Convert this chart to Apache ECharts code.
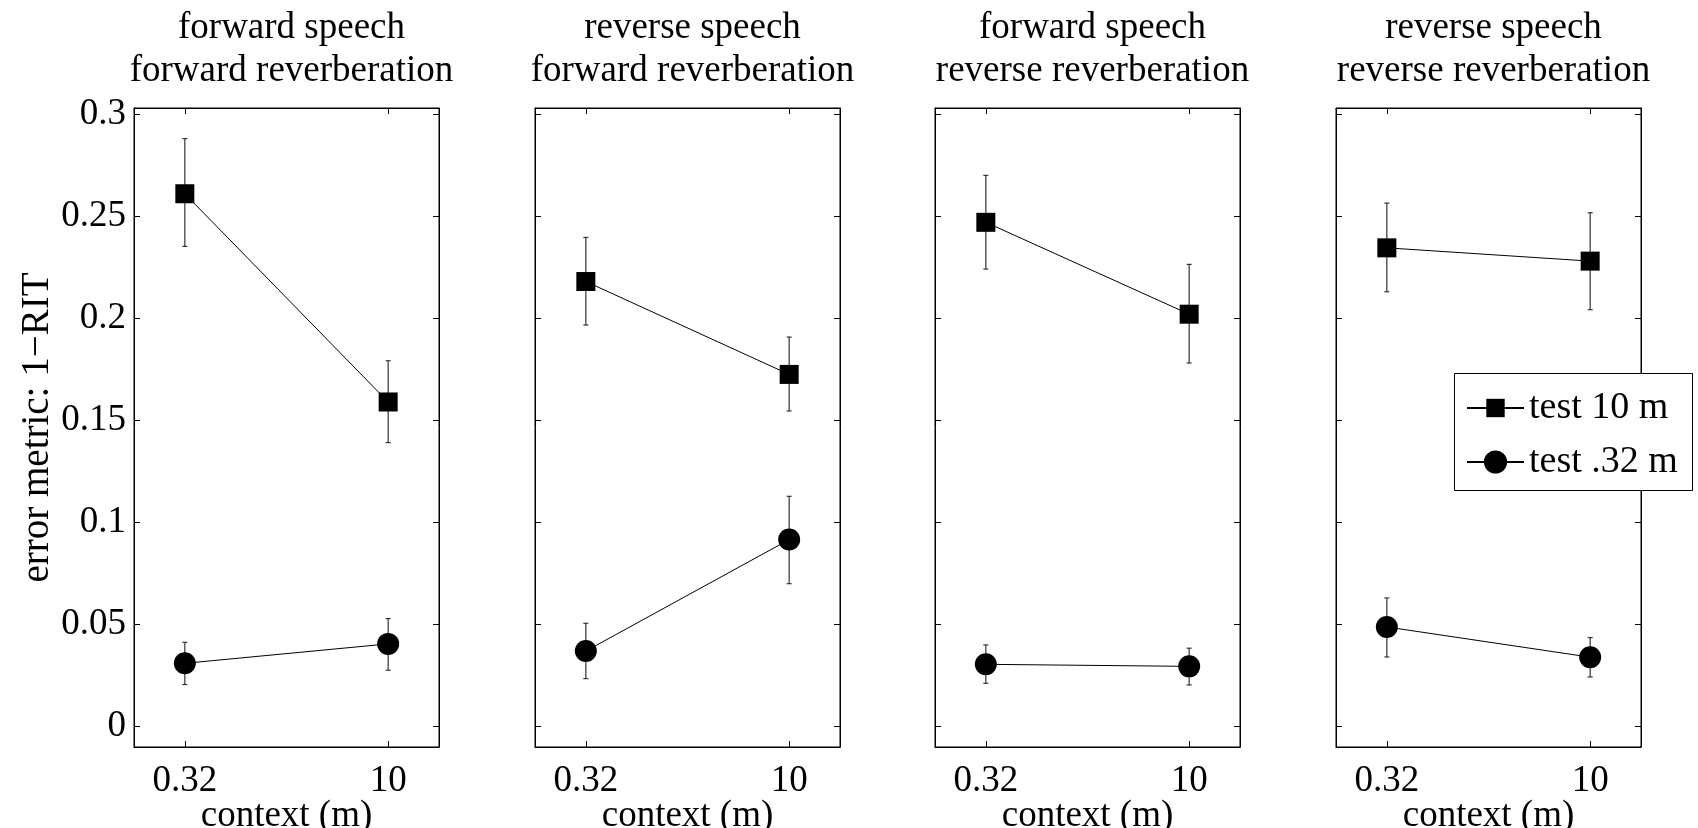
<!DOCTYPE html>
<html>
<head>
<meta charset="utf-8">
<script src="https://cdn.jsdelivr.net/npm/echarts@6/dist/echarts.min.js"></script>
<style>
html, body { margin: 0; padding: 0; background: #fff; }
#chartmain { width: 1698px; height: 828px; }
</style>
</head>
<body>
<div id="chartmain"></div>
<script>
// data
var panelTitles = [
	'forward speech\nforward reverberation',
	'reverse speech\nforward reverberation',
	'forward speech\nreverse reverberation',
	'reverse speech\nreverse reverberation'
];
var contextLabels = ['0.32', '10'];
var yTicks = [0, 0.05, 0.1, 0.15, 0.2, 0.25, 0.3];
var yTickLabels = ['0', '0.05', '0.1', '0.15', '0.2', '0.25', '0.3'];

// test 10 m (squares)
var test10 = [[0.261, 0.159], [0.218, 0.1725], [0.247, 0.202], [0.2345, 0.228]];
var test10Low = [[0.2352, 0.1391], [0.1967, 0.1546], [0.2241, 0.1781], [0.213, 0.2042]];
var test10High = [[0.288, 0.1792], [0.2396, 0.1908], [0.27, 0.2264], [0.2564, 0.2517]];
// test .32 m (circles)
var test032 = [[0.031, 0.0405], [0.037, 0.0916], [0.0305, 0.0295], [0.0488, 0.034]];
var test032Low = [[0.0206, 0.0276], [0.0235, 0.07], [0.0212, 0.0204], [0.0341, 0.0243]];
var test032High = [[0.0413, 0.0529], [0.0506, 0.1128], [0.04, 0.0384], [0.063, 0.0436]];

var font = "'Liberation Serif', 'DejaVu Serif', serif";
var fs = 37;
var gridLeft = [134, 535, 935, 1336];
var gridW = 305;

function renderErr(params, api) {
	var x = api.value(0);
	var lo = api.coord([x, api.value(1)]);
	var hi = api.coord([x, api.value(2)]);
	var cap = 2.5;
	var st = { stroke: '#333', lineWidth: 1.2 };
	return {
		type: 'group',
		children: [
			{ type: 'line', shape: { x1: lo[0], y1: lo[1], x2: hi[0], y2: hi[1] }, style: st },
			{ type: 'line', shape: { x1: lo[0] - cap, y1: lo[1], x2: lo[0] + cap, y2: lo[1] }, style: st },
			{ type: 'line', shape: { x1: hi[0] - cap, y1: hi[1], x2: hi[0] + cap, y2: hi[1] }, style: st }
		]
	};
}

var grids = [], xAxes = [], yAxes = [], series = [], titles = [];
for (var i = 0; i < 4; i++) {
	grids.push({
		left : gridLeft[i],
		top : 108,
		width : gridW,
		height : 639,
		outerBoundsMode : 'none',
		containLabel : false,
		show : true,
		borderColor : '#000',
		borderWidth : 1
	});
	titles.push({
		text : panelTitles[i],
		left : gridLeft[i] + gridW / 2,
		top : 2,
		textAlign : 'center',
		textStyle : {
			fontFamily : font,
			fontSize : fs,
			fontWeight : 'normal',
			color : '#000',
			lineHeight : 43
		}
	});
	// bottom / top x axes
	for (var k = 0; k < 2; k++) {
		xAxes.push({
			gridIndex : i,
			type : 'value',
			position : k == 0 ? 'bottom' : 'top',
			min : -0.25,
			max : 1.25,
			name : k == 0 ? 'context (m)' : '',
			nameLocation : 'middle',
			nameGap : 51,
			nameMoveOverlap : false,
			nameTextStyle : { fontFamily : font, fontSize : fs, color : '#000' },
			axisLine : { show : true, onZero : false, lineStyle : { color : '#000', width : 1 } },
			axisTick : { show : true, inside : true, length : 6, customValues : [0, 1], lineStyle : { color : '#000' } },
			axisLabel : {
				show : k == 0,
				customValues : [0, 1],
				margin : 16,
				fontFamily : font,
				fontSize : fs,
				color : '#000',
				formatter : function(v) { return contextLabels[Math.round(v)]; }
			},
			splitLine : { show : false }
		});
	}
	// left / right y axes
	for (var k = 0; k < 2; k++) {
		yAxes.push({
			gridIndex : i,
			type : 'value',
			position : k == 0 ? 'left' : 'right',
			min : -0.01,
			max : 0.303,
			name : (i == 0 && k == 0) ? 'error metric: 1\u2212RIT' : '',
			nameLocation : 'middle',
			nameGap : 77,
			nameMoveOverlap : false,
			nameRotate : 90,
			nameTextStyle : { fontFamily : font, fontSize : 39, color : '#000' },
			axisLine : { show : true, onZero : false, lineStyle : { color : '#000', width : 1 } },
			axisTick : { show : true, inside : true, length : 6, customValues : yTicks, lineStyle : { color : '#000' } },
			axisLabel : {
				show : i == 0 && k == 0,
				customValues : yTicks,
				margin : 8,
				fontFamily : font,
				fontSize : fs,
				color : '#000',
				formatter : function(v) { return yTickLabels[Math.round(v / 0.05)]; }
			},
			splitLine : { show : false }
		});
	}

	series.push({
		type : 'custom',
		name : 'err10',
		xAxisIndex : 2 * i,
		yAxisIndex : 2 * i,
		renderItem : renderErr,
		encode : { x : 0, y : [1, 2] },
		z : 1,
		data : [[0, test10Low[i][0], test10High[i][0]], [1, test10Low[i][1], test10High[i][1]]]
	});
	series.push({
		type : 'custom',
		name : 'err032',
		xAxisIndex : 2 * i,
		yAxisIndex : 2 * i,
		renderItem : renderErr,
		encode : { x : 0, y : [1, 2] },
		z : 1,
		data : [[0, test032Low[i][0], test032High[i][0]], [1, test032Low[i][1], test032High[i][1]]]
	});
	series.push({
		type : 'line',
		name : 'test 10 m',
		xAxisIndex : 2 * i,
		yAxisIndex : 2 * i,
		symbol : 'rect',
		symbolSize : 19,
		itemStyle : { color : '#000' },
		lineStyle : { color : '#000', width : 1 },
		z : 2,
		data : [[0, test10[i][0]], [1, test10[i][1]]]
	});
	series.push({
		type : 'line',
		name : 'test .32 m',
		xAxisIndex : 2 * i,
		yAxisIndex : 2 * i,
		symbol : 'circle',
		symbolSize : 22,
		itemStyle : { color : '#000' },
		lineStyle : { color : '#000', width : 1 },
		z : 2,
		data : [[0, test032[i][0]], [1, test032[i][1]]]
	});
}

var legendText = { fontFamily : font, fontSize : 38, color : '#000' };
var option = {
	animation : false,
	backgroundColor : '#fff',
	title : titles,
	grid : grids,
	xAxis : xAxes,
	yAxis : yAxes,
	legend : [ {
		data : ['test 10 m'],
		left : 1466,
		top : 389,
		padding : 0,
		itemWidth : 57,
		itemHeight : 23,
		selectedMode : false,
		textStyle : legendText
	}, {
		data : ['test .32 m'],
		left : 1466,
		top : 443,
		padding : 0,
		itemWidth : 57,
		itemHeight : 29,
		selectedMode : false,
		textStyle : legendText
	} ],
	graphic : [ {
		type : 'rect',
		left : 1454,
		top : 373,
		z : 3,
		shape : { width : 238, height : 117 },
		style : { fill : '#fff', stroke : '#000', lineWidth : 1 }
	} ],
	series : series
};
var myChart = echarts.init(document.getElementById('chartmain'));
myChart.setOption(option);
</script>
</body>
</html>
